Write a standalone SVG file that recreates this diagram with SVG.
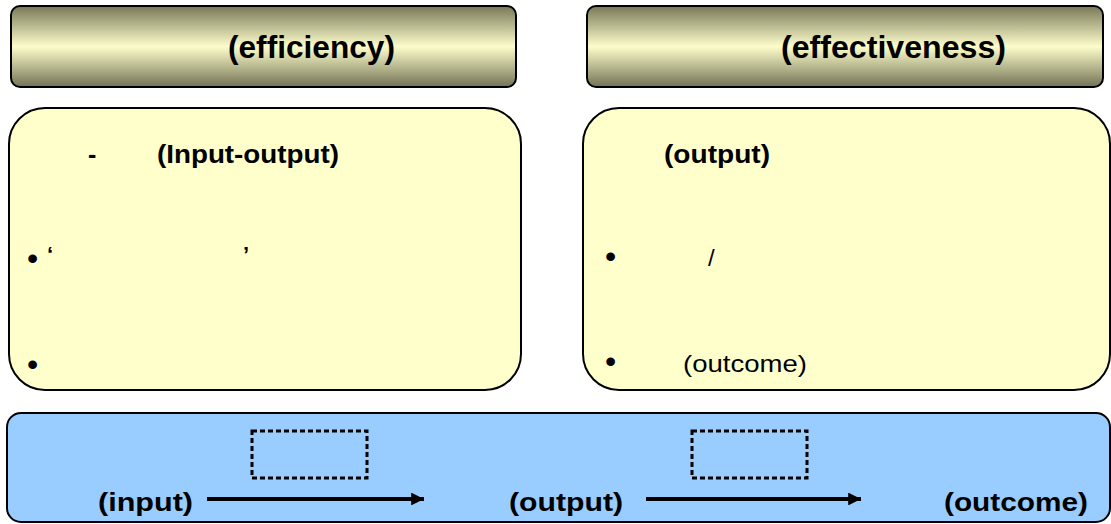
<svg xmlns="http://www.w3.org/2000/svg" width="1111" height="524" viewBox="0 0 1111 524">
  <defs>
    <linearGradient id="bar" x1="0" y1="0" x2="0" y2="1">
      <stop offset="0" stop-color="#787858"/>
      <stop offset="0.5" stop-color="#fdfdcb"/>
      <stop offset="1" stop-color="#737356"/>
    </linearGradient>
    <marker id="head" viewBox="0 0 10 10" refX="10" refY="5" markerWidth="3.6" markerHeight="3.2" orient="auto" markerUnits="strokeWidth">
      <path d="M0,0 L10,5 L0,10 Z" fill="#000"/>
    </marker>
  </defs>
  <style>
    .hdr { fill: url(#bar); stroke: #000; stroke-width: 2; }
    .card { fill: #ffffcc; stroke: #000; stroke-width: 2; }
    .flow { fill: #99ccff; stroke: #000; stroke-width: 2; }
    .dots { fill: none; stroke: #000; stroke-width: 3; stroke-dasharray: 5 3; }
    .t { font-family: "Liberation Sans", Arial, sans-serif; fill: #000; }
    .b { font-weight: bold; }
    .dot { font-size: 32px; }
    .arrow { stroke: #000; stroke-width: 4; fill: none; marker-end: url(#head); }
  </style>

  <!-- header bars -->
  <g id="efficiency">
    <rect class="hdr" x="11" y="6" width="505" height="81" rx="9"/>
    <text class="t b" x="228" y="58" font-size="31.5" textLength="167" lengthAdjust="spacingAndGlyphs">(efficiency)</text>
  </g>
  <g id="effectiveness">
    <rect class="hdr" x="587" y="6" width="516" height="81" rx="9"/>
    <text class="t b" x="781" y="58" font-size="31.5" textLength="225" lengthAdjust="spacingAndGlyphs">(effectiveness)</text>
  </g>

  <!-- description cards -->
  <g id="input-output">
    <rect class="card" x="9" y="108" width="512" height="282" rx="36"/>
    <text class="t b" x="88" y="163" font-size="25">-</text>
    <text class="t b" x="157" y="163" font-size="25" textLength="182" lengthAdjust="spacingAndGlyphs">(Input-output)</text>
    <text class="t dot" x="27" y="269">•</text>
    <text class="t b" x="47" y="262" font-size="22">‘</text>
    <text class="t b" x="243" y="262" font-size="22">’</text>
    <text class="t dot" x="27" y="375">•</text>
  </g>
  <g id="output">
    <rect class="card" x="583" y="108" width="527" height="282" rx="36"/>
    <text class="t b" x="664" y="163" font-size="25" textLength="106" lengthAdjust="spacingAndGlyphs">(output)</text>
    <text class="t dot" x="605" y="267">•</text>
    <text class="t" x="708" y="266" font-size="24">/</text>
    <text class="t dot" x="605" y="372">•</text>
    <text class="t" x="683" y="372" font-size="24" textLength="124" lengthAdjust="spacingAndGlyphs">(outcome)</text>
  </g>

  <!-- chain panel -->
  <g id="chain">
    <rect class="flow" x="7" y="413" width="1103" height="109" rx="14"/>
    <rect class="dots" x="252" y="431" width="115" height="47"/>
    <rect class="dots" x="692" y="431" width="115" height="47"/>
    <text class="t b" x="98" y="511" font-size="26" textLength="95" lengthAdjust="spacingAndGlyphs">(input)</text>
    <text class="t b" x="509" y="511" font-size="26" textLength="114" lengthAdjust="spacingAndGlyphs">(output)</text>
    <text class="t b" x="944" y="511" font-size="26" textLength="144" lengthAdjust="spacingAndGlyphs">(outcome)</text>
  </g>

  <!-- connectors -->
  <g id="connectors">
    <line class="arrow" x1="207" y1="499" x2="424" y2="499"/>
    <line class="arrow" x1="646" y1="499" x2="861" y2="499"/>
  </g>
</svg>
